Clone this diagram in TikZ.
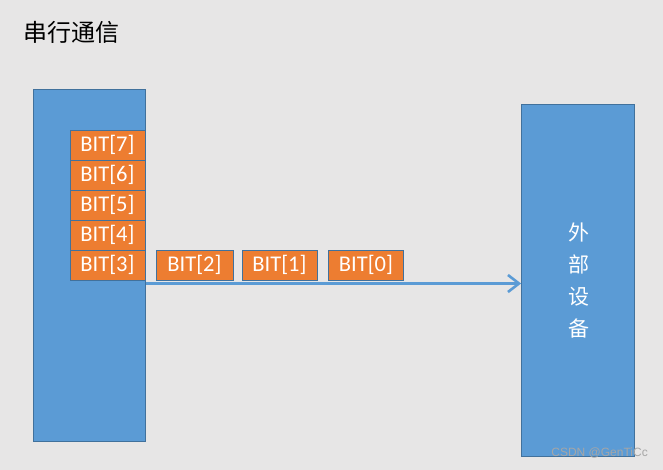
\documentclass[tikz,border=0pt]{standalone}
\usepackage{fontspec}
\setmainfont{Carlito}
\newfontfamily\cjk{Noto Sans CJK SC}
\usetikzlibrary{arrows.meta}
\definecolor{bg}{HTML}{E7E6E6}
\definecolor{blu}{HTML}{5B9BD5}
\definecolor{bord}{HTML}{41719C}
\definecolor{org}{HTML}{ED7D31}
\begin{document}
\begin{tikzpicture}[x=1pt,y=-1pt,
  dev/.style={draw=bord,fill=blu,line width=0.8pt},
  bitbox/.style={draw=bord,fill=org,line width=0.8pt,text=white,font=\fontsize{22.5}{22.5}\selectfont,inner sep=0pt},
]
\fill[bg] (0,0) rectangle (663,470);
\useasboundingbox (0,0) rectangle (663,470);
\node[anchor=west,font=\cjk\fontsize{24}{24}\selectfont,inner sep=0pt] (title) at (23,32) {串行通信};
\node[dev,minimum width=112pt,minimum height=352pt,inner sep=0pt] (cpu) at (89,265) {};
\node[dev,minimum width=113pt,minimum height=352pt,inner sep=0pt] (ext) at (578,280) {};
\node[text=white,font=\cjk\fontsize{21}{32}\selectfont,align=center,inner sep=0pt] (extlbl) at (579,281) {外\\部\\设\\备};
\foreach \i/\y in {7/145,6/175,5/205,4/235,3/265}{
  \node[bitbox,minimum width=75pt,minimum height=30pt] (b\i) at (107.5,\y) {BIT[\i]};
}
\node[bitbox,minimum width=77pt,minimum height=30pt] (b2) at (194.5,265) {BIT[2]};
\node[bitbox,minimum width=75pt,minimum height=30pt] (b1) at (279.5,265) {BIT[1]};
\node[bitbox,minimum width=75pt,minimum height=30pt] (b0) at (366,265) {BIT[0]};
\coordinate (as) at (145.5,283.5);
\draw[blu,line width=2.6pt,-{Straight Barb[length=11pt,width=17pt,line width=2.6pt]}] (as) -- (as -| ext.west);
\node[anchor=east,text=gray!70,font=\fontspec{Liberation Sans}\fontsize{12}{12}\selectfont,inner sep=0pt] (wm) at (648,453) {CSDN @GenTiCc};
\end{tikzpicture}
\end{document}
